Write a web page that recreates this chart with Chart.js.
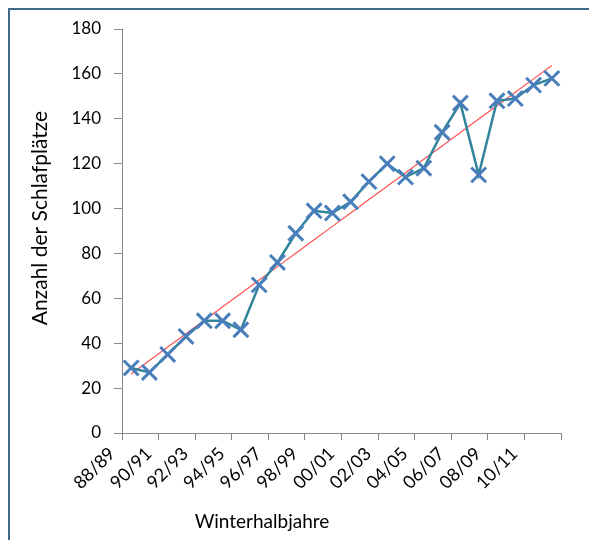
<!DOCTYPE html>
<html lang="de">
<head>
    <meta charset="UTF-8">
    <title>Schlafplätze</title>
    <script src="https://cdn.jsdelivr.net/npm/chart.js"></script>
    <style>
        body { margin: 0; background: #fff; }
        #wrap { position: relative; width: 589px; height: 540px; }
        #frame { position: absolute; left: 8px; top: 8px; width: 580px; height: 540px;
                 border-top: 2px solid #3f6b89; border-left: 2px solid #3f6b89; pointer-events: none; }
        canvas { position: absolute; left: 0; top: 0; }
    </style>
</head>
<body>
    <div id="wrap">
        <canvas id="chart" width="589" height="540"></canvas>
        <div id="frame"></div>
    </div>

    <script>
        const seasons = ['88/89', '89/90', '90/91', '91/92', '92/93', '93/94', '94/95', '95/96',
                         '96/97', '97/98', '98/99', '99/00', '00/01', '01/02', '02/03', '03/04',
                         '04/05', '05/06', '06/07', '07/08', '08/09', '09/10', '10/11', '11/12'];
        const beds = [29, 27, 35, 43, 50, 50, 46, 66, 76, 89, 99, 98,
                      103, 112, 120, 114, 118, 134, 147, 115, 148, 149, 155, 158];
        const yTicks = [0, 20, 40, 60, 80, 100, 120, 140, 160, 180];

        // linear trend (least squares) over the series
        const n = beds.length;
        const mx = (n - 1) / 2;
        const my = beds.reduce((a, b) => a + b, 0) / n;
        let sxy = 0, sxx = 0;
        beds.forEach((v, i) => { sxy += (i - mx) * (v - my); sxx += (i - mx) * (i - mx); });
        const slope = sxy / sxx;
        const trend = beds.map((v, i) => my + slope * (i - mx));

        const axisGray = '#868686';

        // axis titles drawn by hand, Excel does not centre them on the plot
        const axisTitles = {
            id: 'axisTitles',
            afterDraw(chart) {
                const c = chart.ctx;
                c.save();
                c.fillStyle = '#000';
                c.textAlign = 'center';
                c.textBaseline = 'middle';
                c.font = '19px Lato';
                c.fillText('Winterhalbjahre', 262, 522);
                c.translate(40, 218);
                c.rotate(-Math.PI / 2);
                c.font = '21px Lato';
                c.fillText('Anzahl der Schlafplätze', 0, 0);
                c.restore();
            }
        };

        new Chart(document.getElementById('chart'), {
            type: 'line',
            data: {
                labels: seasons,
                datasets: [
                    {
                        label: 'Schlafplätze',
                        data: beds,
                        borderColor: '#31849b',
                        borderWidth: 2.5,
                        pointStyle: 'crossRot',
                        pointRadius: 10.5,
                        pointBorderWidth: 3,
                        pointBorderColor: '#4a7ebb',
                        pointBackgroundColor: '#4a7ebb',
                        tension: 0,
                        order: 1
                    },
                    {
                        label: 'Trend',
                        data: trend,
                        borderColor: '#ff5252',
                        borderWidth: 1.2,
                        pointRadius: 0,
                        tension: 0,
                        order: 2
                    }
                ]
            },
            options: {
                responsive: false,
                animation: false,
                layout: { padding: { top: 29, right: 28, left: 0, bottom: 0 } },
                plugins: {
                    legend: { display: false },
                    tooltip: { enabled: false }
                },
                scales: {
                    x: {
                        offset: true,
                        grid: {
                            offset: true,
                            drawOnChartArea: false,
                            tickLength: 7,
                            color: ctx => (ctx.index === undefined || ctx.index % 2 === 0) ? axisGray : 'rgba(0,0,0,0)'
                        },
                        border: { color: axisGray, width: 1 },
                        ticks: {
                            autoSkip: false,
                            maxRotation: 45,
                            minRotation: 45,
                            padding: 3,
                            labelOffset: -19,
                            color: '#000',
                            font: { family: 'Lato', size: 18 },
                            callback: function (v, i) { return i % 2 === 0 ? this.getLabelForValue(v) : ''; }
                        },
                        afterFit: s => { s.height = 540 - 433; }
                    },
                    y: {
                        min: 0,
                        max: 180,
                        afterBuildTicks: s => { s.ticks = yTicks.map(v => ({ value: v })); },
                        grid: { drawOnChartArea: false, tickLength: 8, color: axisGray },
                        border: { color: axisGray, width: 1 },
                        ticks: {
                            padding: 13,
                            color: '#000',
                            font: { family: 'Lato', size: 17 }
                        },
                        afterFit: s => { s.width = 122; }
                    }
                }
            },
            plugins: [axisTitles]
        });
    </script>
</body>
</html>
